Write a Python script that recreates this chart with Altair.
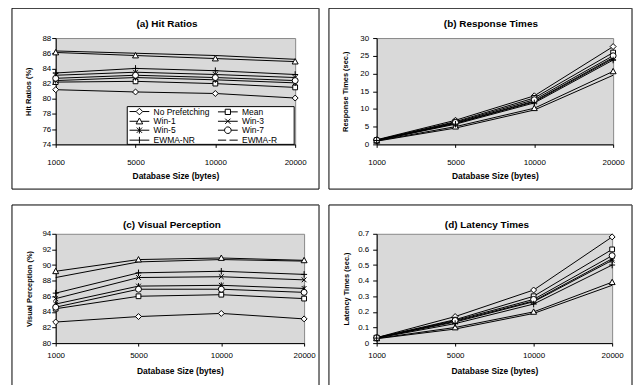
import altair as alt
import pandas as pd

sizes = ["1000", "5000", "10000", "20000"]
series = ["No Prefetching", "Mean", "Win-1", "Win-3", "Win-5", "Win-7", "EWMA-NR", "EWMA-R"]

hit_ratios = [
    [81.2, 80.9, 80.7, 80.1],
    [82.2, 82.3, 82.0, 81.5],
    [86.1, 85.7, 85.3, 84.9],
    [83.1, 83.5, 83.2, 82.8],
    [82.4, 82.8, 82.5, 82.1],
    [82.7, 83.1, 82.8, 82.4],
    [83.4, 84.0, 83.7, 83.2],
    [86.3, 86.0, 85.7, 85.2],
]
response_times = [
    [1.3, 6.8, 13.7, 27.6],
    [1.2, 6.4, 13.1, 25.9],
    [1.0, 5.0, 10.2, 20.6],
    [1.1, 6.0, 12.2, 24.5],
    [1.1, 5.9, 12.0, 24.2],
    [1.2, 6.2, 12.6, 25.0],
    [1.1, 5.7, 11.7, 23.8],
    [0.9, 4.6, 9.7, 19.5],
]
visual_perception = [
    [82.7, 83.4, 83.8, 83.1],
    [84.4, 86.0, 86.2, 85.7],
    [89.2, 90.7, 90.9, 90.6],
    [85.7, 88.4, 88.5, 88.1],
    [85.0, 87.3, 87.4, 87.0],
    [84.6, 86.9, 86.9, 86.5],
    [86.4, 89.0, 89.2, 88.8],
    [88.4, 90.4, 90.7, 90.5],
]
latency_times = [
    [0.035, 0.17, 0.34, 0.68],
    [0.035, 0.15, 0.30, 0.60],
    [0.030, 0.10, 0.20, 0.39],
    [0.033, 0.14, 0.27, 0.54],
    [0.033, 0.135, 0.265, 0.53],
    [0.034, 0.145, 0.28, 0.56],
    [0.032, 0.125, 0.25, 0.50],
    [0.028, 0.09, 0.19, 0.37],
]

titles = ["(a) Hit Ratios", "(b) Response Times", "(c) Visual Perception", "(d) Latency Times"]
y_titles = ["Hit Ratios (%)", "Response Times (sec.)", "Visual Perception (%)", "Latency Times (sec.)"]
x_title = "Database Size (bytes)"
ticks_a = [74, 76, 78, 80, 82, 84, 86, 88]
ticks_b = [0, 5, 10, 15, 20, 25, 30]
ticks_c = [80, 82, 84, 86, 88, 90, 92, 94]
ticks_d = [0, 0.1, 0.2, 0.3, 0.4, 0.5, 0.6, 0.7]

FONT = "Liberation Sans"

marker_paths = {
    "No Prefetching": "M0,-1L1,0L0,1L-1,0Z",
    "Mean": "M-0.8,-0.8H0.8V0.8H-0.8Z",
    "Win-1": "M0,-1L1,0.8L-1,0.8Z",
    "Win-3": "M-0.8,-0.8L0.8,0.8M-0.8,0.8L0.8,-0.8",
    "Win-5": "M-0.8,-0.8L0.8,0.8M-0.8,0.8L0.8,-0.8M0,-1V1",
    "Win-7": "circle",
    "EWMA-NR": "M-1,0H1M0,-1.1V1.1",
}
legend_paths = {
    "No Prefetching": "M-3,0H-1M1,0H3M0,-1L1,0L0,1L-1,0Z",
    "Mean": "M-3,0H-0.8M0.8,0H3M-0.8,-0.8H0.8V0.8H-0.8Z",
    "Win-1": "M-3,0H-0.55M0.55,0H3M0,-1L1,0.8L-1,0.8Z",
    "Win-3": "M-3,0H3M-0.8,-0.8L0.8,0.8M-0.8,0.8L0.8,-0.8",
    "Win-5": "M-3,0H3M-0.8,-0.8L0.8,0.8M-0.8,0.8L0.8,-0.8M0,-1V1",
    "Win-7": "M-3,0H-1M1,0H3M1,0A1,1,0,1,1,-1,0A1,1,0,1,1,1,0Z",
    "EWMA-NR": "M-3,0H3M0,-1V1",
    "EWMA-R": "M-3,0H-0.5M0.5,0H3",
}

one = pd.DataFrame({"k": [0]})


def panel(vals, idx, ydom, yticks, yfmt, W, H, g, with_legend=False):
    rows = []
    for name, row in zip(series, vals):
        for xi, (s, v) in enumerate(zip(sizes, row)):
            rows.append({"size": s, "order": xi, "series": name, "value": v})
    df = pd.DataFrame(rows)

    x_enc = alt.X(
        "size:N", sort=sizes, scale=alt.Scale(domain=sizes, padding=0),
        axis=alt.Axis(title=x_title, labelAngle=0, tickSize=3, labelPadding=g["xlp"],
                      titleY=g["xty"], titleBaseline="middle", grid=False),
    )
    y_enc = alt.Y(
        "value:Q", scale=alt.Scale(domain=ydom, nice=False, zero=False),
        axis=alt.Axis(title=y_titles[idx], values=yticks, format=yfmt, tickSize=4,
                      labelPadding=g["ylp"], titleX=g["ytx"], titleY=H / 2,
                      titleBaseline="middle", titleAlign="center", titleFontSize=7.5,
                      grid=False),
    )

    layers = []
    x0, x1, y0, y1 = g["box"]
    layers.append(alt.Chart(one).mark_rule(color="black", strokeWidth=1).encode(
        x=alt.value(x0), x2=alt.value(x1), y=alt.value(y0)))
    layers.append(alt.Chart(one).mark_rule(color="black", strokeWidth=1).encode(
        x=alt.value(x0), y=alt.value(y0), y2=alt.value(y1)))
    layers.append(alt.Chart(one).mark_rule(color="#555555", strokeWidth=1.5).encode(
        x=alt.value(x1), y=alt.value(y0), y2=alt.value(y1)))
    if g["bottom"]:
        layers.append(alt.Chart(one).mark_rule(color="black", strokeWidth=1).encode(
            x=alt.value(x0), x2=alt.value(x1), y=alt.value(y1)))

    if with_legend:
        lx0, lx1, ly0, ly1 = g["lbox"]
        layers.append(alt.Chart(one).mark_rect(fill="white", stroke="black", strokeWidth=1).encode(
            x=alt.value(lx0), x2=alt.value(lx1), y=alt.value(ly0), y2=alt.value(ly1)))

    layers.append(alt.Chart(df).mark_line(color="black", strokeWidth=1).encode(
        x=x_enc, y=y_enc, detail="series:N", order="order:Q"))
    marked = series[:-1]
    layers.append(
        alt.Chart(df).transform_filter("datum.series != 'EWMA-R'")
        .mark_point(filled=True, fill="white", stroke="black", strokeWidth=1, size=36, opacity=1)
        .encode(x=x_enc, y=y_enc,
                shape=alt.Shape("series:N",
                                scale=alt.Scale(domain=marked, range=[marker_paths[s] for s in marked]),
                                legend=None))
    )
    if with_legend:
        layers.append(
            alt.Chart(df).transform_filter("false")
            .mark_point(filled=False, color="black", strokeWidth=1, opacity=1)
            .encode(x=x_enc, y=y_enc,
                    shape=alt.Shape("series:N",
                                    scale=alt.Scale(domain=series, range=[legend_paths[s] for s in series]),
                                    legend=alt.Legend(title=None, orient="none", legendX=g["lx"], legendY=g["ly"],
                                                      direction="horizontal", columns=2, columnPadding=6,
                                                      rowPadding=-5, padding=0,
                                                      symbolSize=44, symbolStrokeWidth=1,
                                                      symbolStrokeColor="black",
                                                      labelOffset=10, labelFont=FONT, labelFontSize=8.5,
                                                      labelColor="black")))
        )
    layers.append(alt.Chart(one).mark_text(text=titles[idx], font=FONT, fontSize=10, fontWeight="bold",
                                           color="black").encode(x=alt.value(g["tx"]), y=alt.value(g["ty"])))
    ch = alt.layer(*layers).properties(width=W, height=H)
    if with_legend:
        ch = ch.resolve_scale(shape="independent")
    return ch


ga = dict(box=(-44, 265, -30, 152), bottom=True, tx=112, ty=-14, ytx=-27, ylp=1, xlp=11.5, xty=31,
          lbox=(72, 240, 69, 107), lx=80, ly=69.5)
gb = dict(box=(-48, 257, -30, 152), bottom=True, tx=115, ty=-14, ytx=-31, ylp=4, xlp=11.5, xty=31)
gc = dict(box=(-44, 265, -29, 160), bottom=False, tx=117, ty=-9, ytx=-26, ylp=1, xlp=5.5, xty=28)
gd = dict(box=(-48, 257, -29, 160), bottom=False, tx=111, ty=-9, ytx=-30, ylp=4, xlp=5.5, xty=28)

a = panel(hit_ratios, 0, [74, 88], ticks_a, "d", 241, 107, ga, with_legend=True)
b = panel(response_times, 1, [0, 30], ticks_b, "d", 238, 107, gb)
c = panel(visual_perception, 2, [80, 94], ticks_c, "d", 250, 110, gc)
d = panel(latency_times, 3, [0, 0.7], ticks_d, "~g", 237, 110, gd)

chart = (
    alt.concat(a, b, c, d, columns=2, spacing={"row": 90, "column": 73}, align="each", bounds="flush")
    .properties(padding={"left": 3, "top": -3, "right": 0, "bottom": 0}, background="white")
    .configure_view(fill="#d9d9d9", stroke="#888888")
    .configure_axis(labelFont=FONT, titleFont=FONT, labelFontSize=8, titleFontSize=8.5,
                    titleFontWeight="bold", labelColor="black", titleColor="black",
                    domainColor="black", tickColor="black")
)

chart.save("out.html", embed_options={"renderer": "svg", "actions": False})
